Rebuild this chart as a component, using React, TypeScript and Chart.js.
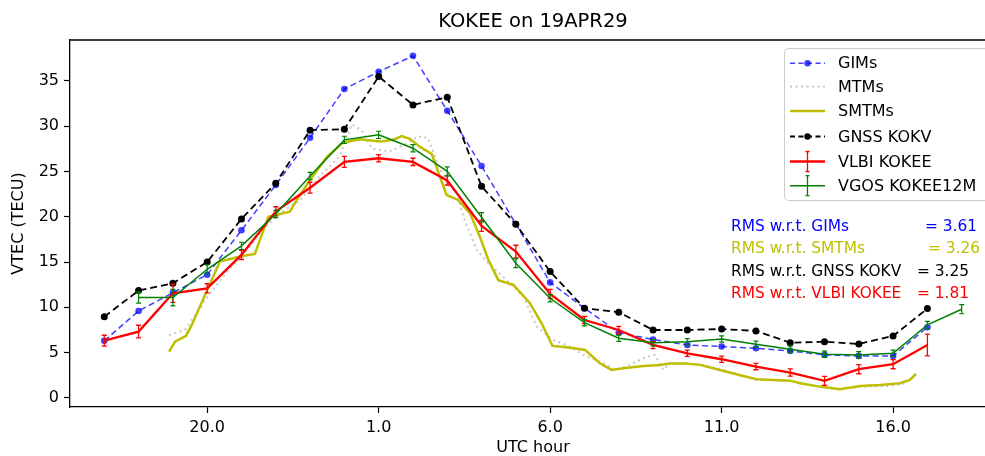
import React, { useEffect, useRef } from "react";
import { Chart, registerables } from "chart.js";

Chart.register(...registerables);

const FONT = "'DejaVu Sans', sans-serif";

// ---- data ----
const hourlyTimes = [17, 18, 19, 20, 21, 22, 23, 24, 25, 26, 27, 28, 29, 30, 31, 32, 33, 34, 35, 36, 37, 38, 39, 40, 41];
const vgosTimes = [18, 19, 20, 21, 22, 23, 24, 25, 26, 27, 28, 29, 30, 31, 32, 33, 34, 35, 36, 37, 38, 39, 40, 41, 42];

const gimsValues = [6.3, 9.6, 11.6, 13.6, 18.5, 23.5, 28.7, 34.1, 36.0, 37.75, 31.7, 25.6, 19.2, 12.75, 9.9, 7.2, 6.45, 5.85, 5.67, 5.48, 5.19, 4.75, 4.64, 4.64, 7.8];
const gnssValues = [8.97, 11.85, 12.66, 15.0, 19.76, 23.7, 29.55, 29.66, 35.47, 32.34, 33.19, 23.35, 19.17, 13.94, 9.9, 9.46, 7.5, 7.5, 7.6, 7.4, 6.1, 6.2, 5.96, 6.84, 9.86];
const vlbiValues = [6.32, 7.32, 11.55, 12.1, 15.78, 20.6, 23.2, 26.05, 26.45, 26.05, 24.0, 18.98, 16.15, 11.48, 8.6, 7.5, 5.85, 4.93, 4.27, 3.46, 2.8, 1.88, 3.17, 3.72, 5.85];
const vlbiErrors = [0.6, 0.7, 1.0, 0.5, 0.5, 0.5, 0.6, 0.6, 0.4, 0.4, 0.5, 0.6, 0.7, 0.5, 0.4, 0.4, 0.4, 0.35, 0.35, 0.35, 0.4, 0.5, 0.5, 0.5, 1.2];
const vgosValues = [11.07, 11.07, 14.2, 16.78, 20.3, 24.5, 28.48, 29.03, 27.56, 25.0, 19.94, 14.87, 11.0, 8.31, 6.59, 6.1, 6.2, 6.5, 5.92, 5.37, 4.82, 4.75, 4.93, 8.06, 9.79];
const vgosErrors = [0.6, 0.9, 0.5, 0.4, 0.4, 0.4, 0.4, 0.4, 0.4, 0.5, 0.5, 0.5, 0.4, 0.35, 0.35, 0.35, 0.35, 0.35, 0.35, 0.35, 0.35, 0.35, 0.35, 0.4, 0.5];

const smtmsTimes = [18.89, 19.06, 19.38, 19.55, 20.37, 20.96, 21.39, 21.78, 22.41, 22.61, 23.0, 23.49, 23.97, 24.46, 25.04, 25.43, 25.67, 25.91, 26.21, 26.55, 26.98, 27.32, 27.66, 27.95, 28.2, 28.49, 28.93, 29.41, 29.75, 30.07, 30.48, 31.02, 31.45, 31.79, 32.13, 32.72, 33.2, 33.5, 33.94, 34.37, 34.95, 35.54, 36.02, 36.99, 37.29, 37.87, 38.45, 39.04, 39.62, 40.2, 40.49, 40.67];
const smtmsValues = [5.1, 6.2, 6.84, 8.06, 15.05, 15.6, 15.9, 20.0, 20.56, 21.85, 24.06, 26.6, 28.2, 28.55, 28.3, 28.5, 28.9, 28.6, 27.7, 26.9, 22.4, 21.85, 20.4, 17.8, 15.23, 13.0, 12.47, 10.45, 8.24, 5.74, 5.6, 5.3, 3.83, 3.09, 3.28, 3.53, 3.64, 3.8, 3.8, 3.65, 3.09, 2.5, 2.06, 1.91, 1.62, 1.25, 0.96, 1.32, 1.43, 1.62, 1.99, 2.65];

const mtmsTimes = [18.89, 19.35, 20.02, 20.61, 21.1, 21.6, 22.12, 22.71, 23.29, 23.87, 24.22, 24.51, 24.81, 25.33, 25.77, 26.15, 26.44, 26.64, 26.98, 27.28, 27.47, 27.86, 28.2, 28.73, 29.22, 29.61, 30.09, 30.58, 30.97, 31.55, 31.94, 32.42, 32.82, 33.06, 33.3, 33.5, 34.37, 34.95, 36.0, 36.99, 37.58, 38.16, 38.74, 39.33, 39.91, 40.35];
const mtmsValues = [6.95, 7.5, 11.2, 14.1, 16.0, 18.5, 20.4, 21.8, 24.5, 26.7, 30.2, 29.5, 27.5, 27.2, 28.0, 28.85, 28.7, 26.6, 23.7, 22.6, 20.0, 16.3, 14.87, 13.0, 11.2, 7.87, 6.4, 5.66, 4.75, 3.83, 3.09, 3.83, 4.56, 4.75, 3.09, 3.83, 3.7, 3.2, 2.0, 1.9, 1.4, 1.0, 1.1, 1.3, 1.3, 1.6];

const xTickValues = [20, 25, 30, 35, 40];
const yTickValues = [0, 5, 10, 15, 20, 25, 30, 35];

const titleText = "KOKEE on 19APR29";
const xTitle = "UTC hour";
const yTitle = "VTEC (TECU)";

const rmsLabels = ["RMS w.r.t. GIMs", "RMS w.r.t. SMTMs", "RMS w.r.t. GNSS KOKV", "RMS w.r.t. VLBI KOKEE"];
const rmsValues = ["= 3.61", "= 3.26", "= 3.25", "= 1.81"];
const rmsColors = ["#0000ff", "#bfbf00", "#000000", "#ff0000"];

// ---- styles ----
const C_GIMS = "rgba(0,0,255,0.75)";
const C_MTMS = "#c8c8c8";
const C_SMTMS = "#bfbf00";
const C_GNSS = "#000000";
const C_VLBI = "#ff0000";
const C_VGOS = "#008000";

const zip = (xs: number[], ys: number[]) => xs.map((x, i) => ({ x, y: ys[i] }));

const errorMap: Record<string, { errs: number[]; width: number }> = {
  "VLBI KOKEE": { errs: vlbiErrors, width: 1.3 },
  "VGOS KOKEE12M": { errs: vgosErrors, width: 1.2 },
};

type LegendItem = { label: string; color: string; width: number; dash: number[]; dot: boolean; err: boolean };
const legendItems: LegendItem[] = [
  { label: "GIMs", color: C_GIMS, width: 1.5, dash: [5, 3.5], dot: true, err: false },
  { label: "MTMs", color: C_MTMS, width: 2, dash: [2, 3.5], dot: false, err: false },
  { label: "SMTMs", color: C_SMTMS, width: 2.5, dash: [], dot: false, err: false },
  { label: "GNSS KOKV", color: C_GNSS, width: 1.8, dash: [5, 3.5], dot: true, err: false },
  { label: "VLBI KOKEE", color: C_VLBI, width: 2.3, dash: [], dot: false, err: true },
  { label: "VGOS KOKEE12M", color: C_VGOS, width: 1.5, dash: [], dot: false, err: true },
];

const decorPlugin = {
  id: "decor",
  afterDatasetDraw(chart: any, args: any) {
    const ds = chart.data.datasets[args.index];
    const info = errorMap[ds.label];
    if (!info) return;
    const ctx = chart.ctx;
    const xs = chart.scales.x;
    const ys = chart.scales.y;
    ctx.save();
    ctx.strokeStyle = ds.borderColor;
    ctx.lineWidth = info.width;
    ctx.setLineDash([]);
    ds.data.forEach((p: any, i: number) => {
      const e = info.errs[i];
      const px = xs.getPixelForValue(p.x);
      const y1 = ys.getPixelForValue(p.y - e);
      const y2 = ys.getPixelForValue(p.y + e);
      ctx.beginPath();
      ctx.moveTo(px, y1);
      ctx.lineTo(px, y2);
      ctx.moveTo(px - 2.5, y1);
      ctx.lineTo(px + 2.5, y1);
      ctx.moveTo(px - 2.5, y2);
      ctx.lineTo(px + 2.5, y2);
      ctx.stroke();
    });
    ctx.restore();
  },
  afterDraw(chart: any) {
    const ctx = chart.ctx;
    const a = chart.chartArea;
    ctx.save();
    // frame top/right
    ctx.strokeStyle = "#000";
    ctx.lineWidth = 1.3;
    ctx.beginPath();
    ctx.moveTo(a.left, a.top);
    ctx.lineTo(a.right, a.top);
    ctx.lineTo(a.right, a.bottom);
    ctx.stroke();

    const cx = (a.left + a.right) / 2;
    ctx.fillStyle = "#000";
    ctx.textAlign = "center";
    ctx.textBaseline = "middle";
    ctx.font = `19.5px ${FONT}`;
    ctx.fillText(titleText, cx, 22);
    ctx.font = `16px ${FONT}`;
    ctx.fillText(xTitle, cx, 448);
    ctx.save();
    ctx.translate(19, (a.top + a.bottom) / 2);
    ctx.rotate(-Math.PI / 2);
    ctx.fillText(yTitle, 0, 0);
    ctx.restore();

    // legend box
    const bx = 784, by = 48, bw = 212, bh = 152;
    ctx.fillStyle = "rgba(255,255,255,0.8)";
    ctx.strokeStyle = "#cccccc";
    ctx.lineWidth = 1;
    ctx.beginPath();
    if (ctx.roundRect) ctx.roundRect(bx + 0.5, by + 0.5, bw, bh, 4);
    else ctx.rect(bx + 0.5, by + 0.5, bw, bh);
    ctx.fill();
    ctx.stroke();

    const rowY = [63.3, 86.5, 111, 136.5, 161.5, 185.7];
    const lx0 = 790, lx1 = 825, tx = 838;
    legendItems.forEach((it, i) => {
      const y = rowY[i];
      ctx.strokeStyle = it.color;
      ctx.lineWidth = it.width;
      ctx.setLineDash(it.dash);
      ctx.beginPath();
      ctx.moveTo(lx0, y);
      ctx.lineTo(lx1, y);
      ctx.stroke();
      ctx.setLineDash([]);
      const mx = (lx0 + lx1) / 2;
      if (it.dot) {
        ctx.fillStyle = it.color;
        ctx.beginPath();
        ctx.arc(mx, y, 3.2, 0, Math.PI * 2);
        ctx.fill();
      }
      if (it.err) {
        ctx.lineWidth = 1.3;
        ctx.beginPath();
        ctx.moveTo(mx, y - 10);
        ctx.lineTo(mx, y + 10);
        ctx.moveTo(mx - 2, y - 10);
        ctx.lineTo(mx + 2, y - 10);
        ctx.moveTo(mx - 2, y + 10);
        ctx.lineTo(mx + 2, y + 10);
        ctx.stroke();
      }
      ctx.fillStyle = "#000";
      ctx.textAlign = "left";
      ctx.textBaseline = "middle";
      ctx.font = `16px ${FONT}`;
      ctx.fillText(it.label, tx, y + 1);
    });

    // RMS text
    const rmsY = [226.7, 248.8, 271.5, 293.5];
    const rmsValX = [925, 928, 917, 917];
    ctx.font = `15.4px ${FONT}`;
    ctx.textAlign = "left";
    ctx.textBaseline = "middle";
    rmsLabels.forEach((t, i) => {
      ctx.fillStyle = rmsColors[i];
      ctx.fillText(t, 731, rmsY[i]);
      ctx.fillText(rmsValues[i], rmsValX[i], rmsY[i]);
    });
    ctx.restore();
  },
};

export default function App() {
  const ref = useRef<HTMLCanvasElement | null>(null);
  useEffect(() => {
    if (!ref.current) return;
    const tickFont = { family: FONT, size: 16 };
    const chart = new Chart(ref.current, {
      type: "line",
      data: {
        datasets: [
          {
            label: "GIMs",
            data: zip(hourlyTimes, gimsValues),
            borderColor: C_GIMS,
            backgroundColor: C_GIMS,
            borderWidth: 1.5,
            borderDash: [6, 3.5],
            pointRadius: 3.3,
            pointBorderWidth: 0,
            pointBackgroundColor: C_GIMS,
            order: 6,
          },
          {
            label: "MTMs",
            data: zip(mtmsTimes, mtmsValues),
            borderColor: C_MTMS,
            borderWidth: 2,
            borderDash: [2, 3.5],
            pointRadius: 0,
            order: 5,
          },
          {
            label: "SMTMs",
            data: zip(smtmsTimes, smtmsValues),
            borderColor: C_SMTMS,
            borderWidth: 2.5,
            pointRadius: 0,
            order: 4,
          },
          {
            label: "GNSS KOKV",
            data: zip(hourlyTimes, gnssValues),
            borderColor: C_GNSS,
            backgroundColor: C_GNSS,
            borderWidth: 1.8,
            borderDash: [7, 4],
            pointRadius: 3.5,
            pointBorderWidth: 0,
            pointBackgroundColor: C_GNSS,
            order: 3,
          },
          {
            label: "VLBI KOKEE",
            data: zip(hourlyTimes, vlbiValues),
            borderColor: C_VLBI,
            borderWidth: 2.3,
            pointRadius: 0,
            order: 2,
          },
          {
            label: "VGOS KOKEE12M",
            data: zip(vgosTimes, vgosValues),
            borderColor: C_VGOS,
            borderWidth: 1.5,
            pointRadius: 0,
            order: 1,
          },
        ],
      },
      options: {
        animation: false,
        responsive: false,
        devicePixelRatio: 1,
        events: [],
        layout: { padding: { top: 40, right: 4, left: 0, bottom: 0 } },
        plugins: {
          legend: { display: false },
          title: { display: false },
          tooltip: { enabled: false },
        },
        scales: {
          x: {
            type: "linear",
            min: 16,
            max: 43,
            afterFit: (s: any) => {
              s.height = 49;
            },
            afterBuildTicks: (s: any) => {
              s.ticks = xTickValues.map((v) => ({ value: v }));
            },
            ticks: {
              callback: (v: any) => (Number(v) % 24).toFixed(1),
              font: tickFont,
              color: "#000",
              padding: 5,
              maxRotation: 0,
              autoSkip: false,
            },
            grid: { display: true, drawOnChartArea: false, drawTicks: true, tickLength: 6, tickColor: "#000", tickWidth: 1.2 },
            border: { display: true, color: "#000", width: 1.3 },
          },
          y: {
            type: "linear",
            min: -1,
            max: 39.5,
            afterFit: (s: any) => {
              s.width = 70;
            },
            afterBuildTicks: (s: any) => {
              s.ticks = yTickValues.map((v) => ({ value: v }));
            },
            ticks: {
              callback: (v: any) => String(v),
              font: tickFont,
              color: "#000",
              padding: 5,
              autoSkip: false,
            },
            grid: { display: true, drawOnChartArea: false, drawTicks: true, tickLength: 6, tickColor: "#000", tickWidth: 1.2 },
            border: { display: true, color: "#000", width: 1.3 },
          },
        },
      } as any,
      plugins: [decorPlugin as any],
    });
    return () => chart.destroy();
  }, []);

  return (
    <div style={{ position: "fixed", left: 0, top: 0, width: 985, height: 456, overflow: "hidden", background: "#fff" }}>
      <canvas ref={ref} width={1000} height={456} style={{ display: "block", width: 1000, height: 456 }} />
    </div>
  );
}
